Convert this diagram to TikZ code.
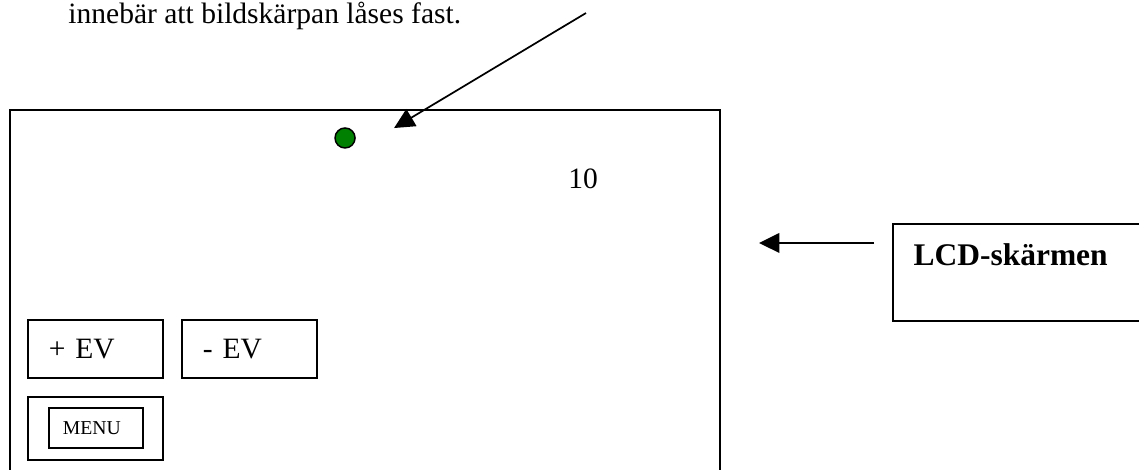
\documentclass[tikz,border=0pt]{standalone}
\usepackage{fontspec}
\setmainfont{Liberation Serif}
\usepackage{xcolor}
\usetikzlibrary{arrows.meta,positioning,calc}
\definecolor{dotgreen}{HTML}{008000}

\begin{document}
\begin{tikzpicture}[
  every node/.style={font=\fontsize{12}{14}\selectfont,inner sep=0pt},
  frame/.style={draw=black,line width=0.8pt},
  evkey/.style={frame,minimum width=1.929cm,minimum height=0.829cm,text width=1.329cm,inner xsep=0.3cm,align=left},
  menukey/.style={frame,minimum width=1.929cm,minimum height=0.9cm},
  menulabel/.style={frame,minimum width=1.343cm,minimum height=0.571cm,text width=0.943cm,inner xsep=0.2cm,align=left,font=\fontsize{8}{9}\selectfont},
  pointer/.style={-{Triangle[length=2.9mm,width=2.8mm]},draw=black,line width=0.7pt}
]
  \useasboundingbox (0,0) rectangle (16.271,-6.7);
  \node[anchor=base west] (cap) at (0.971,-0.329) {innebär att bildskärpan låses fast.};
  \node[frame,anchor=north west,minimum width=10.142cm,minimum height=6cm] (screen) at (0.129,-1.557) {};
  \node[circle,draw=black,line width=0.6pt,fill=dotgreen,minimum size=0.286cm] (dot) at (4.929,-1.971) {};
  \node[anchor=base] (count) at (8.329,-2.686) {10};
  \node[evkey] (plusev) at (1.364,-4.986) {+ EV};
  \node[evkey] (minusev) at (3.564,-4.986) {- EV};
  \node[menukey] (menu) at (1.364,-6.121) {};
  \node[menulabel] (menutext) at (1.371,-6.114) {MENU};
  \node[frame,anchor=north west,minimum width=5cm,minimum height=1.386cm] (lcd) at (12.743,-3.186) {};
  \node[anchor=base west,font=\fontsize{12.8}{14}\selectfont\bfseries] (lcdtext) at (13.043,-3.786) {LCD-skärmen};
  \coordinate (capfrom) at (8.371,-0.186);
  \coordinate (captip) at (5.629,-1.829);
  \coordinate (lcdfrom) at (12.486,-3.471);
  \coordinate (lcdtip) at (10.843,-3.471);
  \draw[pointer] (capfrom) -- (captip);
  \draw[pointer] (lcdfrom) -- (lcdtip);
\end{tikzpicture}
\end{document}
